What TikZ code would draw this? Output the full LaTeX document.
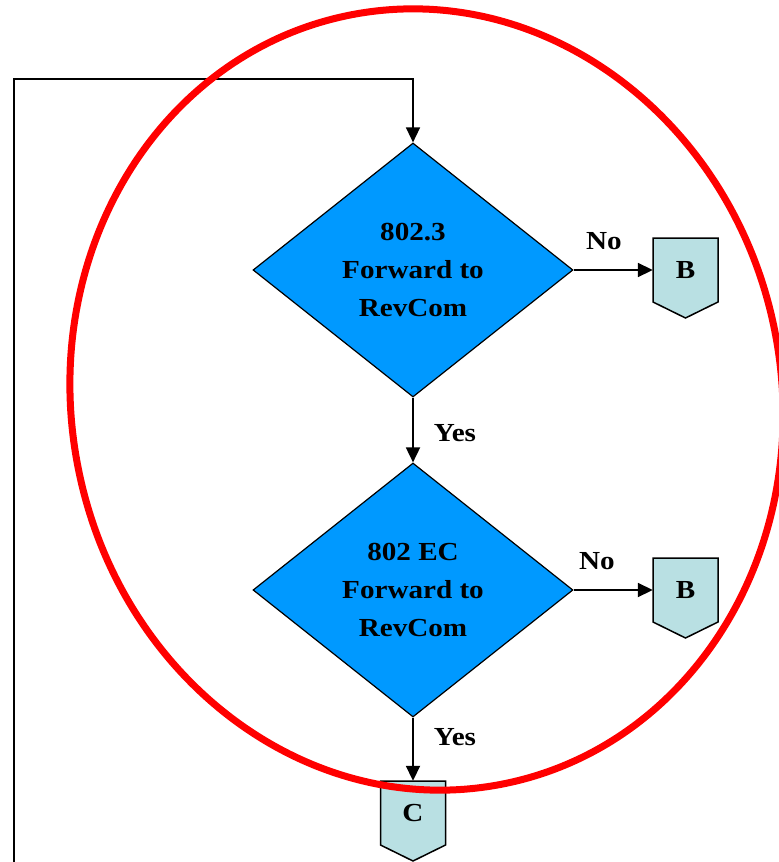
\documentclass[tikz,border=0pt]{standalone}
\usepackage{fontspec}
\setmainfont{Liberation Serif}[FakeStretch=1.12]
\usetikzlibrary{shapes.geometric,arrows.meta,calc}
\definecolor{decblue}{RGB}{0,153,255}
\definecolor{offblue}{RGB}{185,224,227}
\newcommand\offpageconn[4]{%
  \draw[offshape] (#2-32.5,#3-32) -- (#2+32.5,#3-32) -- (#2+32.5,#3+32) -- (#2,#3+48) -- (#2-32.5,#3+32) -- cycle;
  \node[lbl, minimum width=65pt, minimum height=64pt] (#1) at (#2,#3) {#4};
}
\begin{document}
\begin{tikzpicture}[x=1pt,y=-1pt,
  txt/.style={font=\fontsize{26}{38}\selectfont\bfseries, align=center},
  decision/.style={diamond, draw=black, line width=1.2pt, fill=decblue, minimum width=320pt, minimum height=254pt, inner sep=0pt, txt},
  conn/.style={line width=1.8pt, -{Triangle[length=15pt,width=14pt]}},
  loopline/.style={line width=1.5pt, -{Triangle[length=15pt,width=14pt]}},
  lbl/.style={txt, inner sep=0pt},
  offshape/.style={draw=black, line width=1.5pt, fill=offblue, line join=miter}
]
\useasboundingbox (0,0) rectangle (779,862);

\node[decision] (D1) at (413,270) {802.3\\Forward to\\RevCom};
\node[decision] (D2) at (413,590) {802 EC\\Forward to\\RevCom};

\offpageconn{B1}{685.5}{270}{B}
\offpageconn{B2}{685.5}{590}{B}
\offpageconn{C}{413}{813}{C}

\draw[conn] (D1.east) -- (B1.west);
\draw[conn] (D2.east) -- (B2.west);
\draw[conn] (D1.south) -- (D2.north);
\draw[conn] (D2.south) -- (C.north);

\coordinate (loopstart) at (14,862);
\coordinate (loopcorner) at (14,79);
\draw[loopline] (loopstart) -- (loopcorner) -| (D1.north);

\node[lbl] (no1) at (604,241) {No};
\node[lbl] (yes1) at (455,433) {Yes};
\node[lbl] (no2) at (597,561) {No};
\node[lbl] (yes2) at (455,737) {Yes};

\draw[red, line width=7pt, rotate around={11.5:(426.5,399.5)}] (426.5,399.5) ellipse [x radius=355pt, y radius=392pt];
\end{tikzpicture}
\end{document}
